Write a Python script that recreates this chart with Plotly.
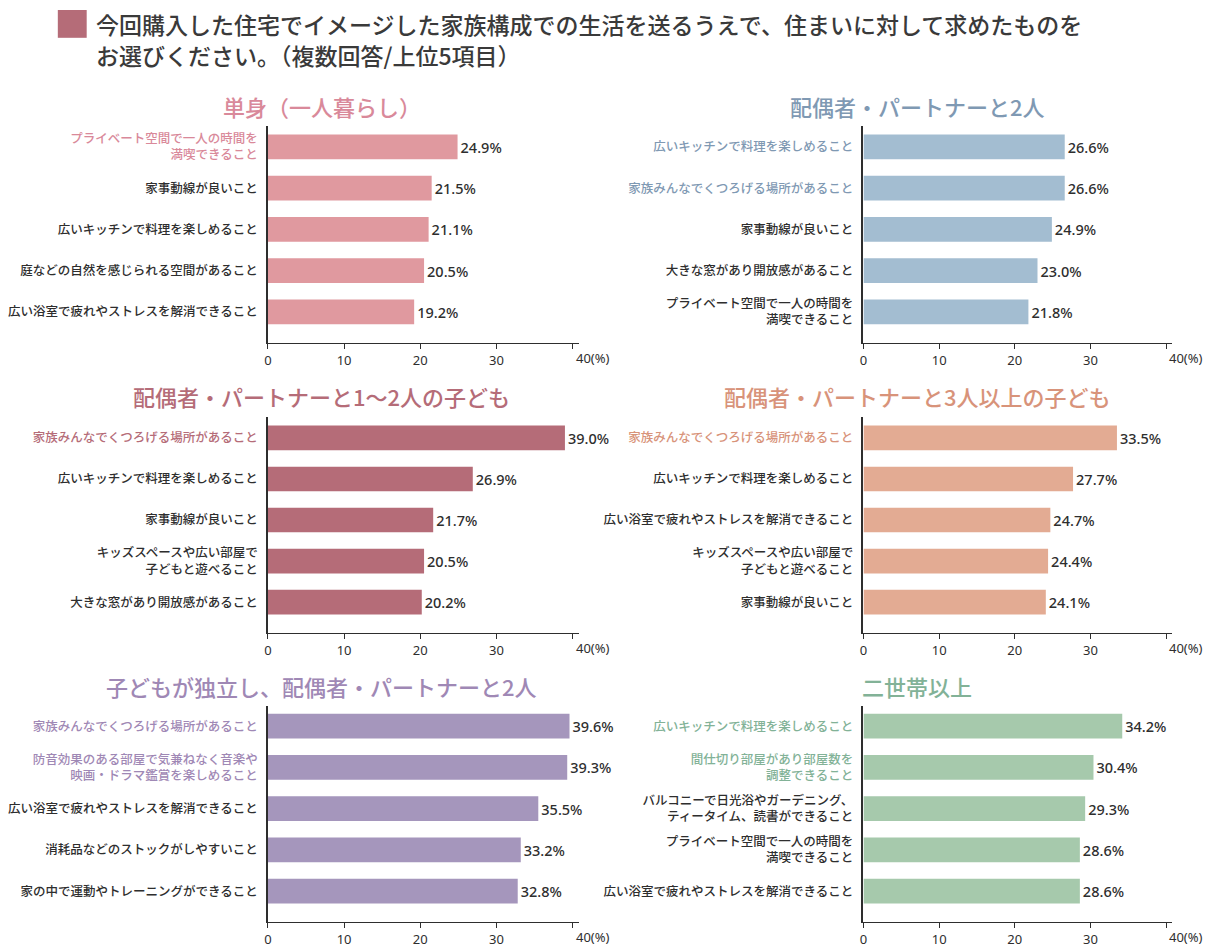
import plotly.graph_objects as go

FONT = "Noto Sans CJK JP"
TXT = "#2E2E2E"

# ---- data ----
title_line1 = "今回購入した住宅でイメージした家族構成での生活を送るうえで、住まいに対して求めたものを"
title_line2 = "お選びください。（複数回答/上位5項目）"

p1_title = "単身（一人暮らし）"
p1_labels = ["プライベート空間で一人の時間を<br>満喫できること", "家事動線が良いこと", "広いキッチンで料理を楽しめること",
             "庭などの自然を感じられる空間があること", "広い浴室で疲れやストレスを解消できること"]
p1_values = [24.9, 21.5, 21.1, 20.5, 19.2]
p1_highlight = 1

p2_title = "配偶者・パートナーと2人"
p2_labels = ["広いキッチンで料理を楽しめること", "家族みんなでくつろげる場所があること", "家事動線が良いこと",
             "大きな窓があり開放感があること", "プライベート空間で一人の時間を<br>満喫できること"]
p2_values = [26.6, 26.6, 24.9, 23.0, 21.8]
p2_highlight = 2

p3_title = "配偶者・パートナーと1〜2人の子ども"
p3_labels = ["家族みんなでくつろげる場所があること", "広いキッチンで料理を楽しめること", "家事動線が良いこと",
             "キッズスペースや広い部屋で<br>子どもと遊べること", "大きな窓があり開放感があること"]
p3_values = [39.0, 26.9, 21.7, 20.5, 20.2]
p3_highlight = 1

p4_title = "配偶者・パートナーと3人以上の子ども"
p4_labels = ["家族みんなでくつろげる場所があること", "広いキッチンで料理を楽しめること",
             "広い浴室で疲れやストレスを解消できること", "キッズスペースや広い部屋で<br>子どもと遊べること",
             "家事動線が良いこと"]
p4_values = [33.5, 27.7, 24.7, 24.4, 24.1]
p4_highlight = 1

p5_title = "子どもが独立し、配偶者・パートナーと2人"
p5_labels = ["家族みんなでくつろげる場所があること", "防音効果のある部屋で気兼ねなく音楽や<br>映画・ドラマ鑑賞を楽しめること",
             "広い浴室で疲れやストレスを解消できること", "消耗品などのストックがしやすいこと",
             "家の中で運動やトレーニングができること"]
p5_values = [39.6, 39.3, 35.5, 33.2, 32.8]
p5_highlight = 2

p6_title = "二世帯以上"
p6_labels = ["広いキッチンで料理を楽しめること", "間仕切り部屋があり部屋数を<br>調整できること",
             "バルコニーで日光浴やガーデニング、<br>ティータイム、読書ができること",
             "プライベート空間で一人の時間を<br>満喫できること", "広い浴室で疲れやストレスを解消できること"]
p6_values = [34.2, 30.4, 29.3, 28.6, 28.6]
p6_highlight = 2

x_ticks = [0, 10, 20, 30, 40]
x_ticktext = ["0", "10", "20", "30", ""]
last_tick_label = "40(%)"

# ---- styles ----
panels = [
    (p1_title, p1_labels, p1_values, p1_highlight, "#E0999F", "#D9899A"),
    (p2_title, p2_labels, p2_values, p2_highlight, "#A3BDD1", "#7F99B3"),
    (p3_title, p3_labels, p3_values, p3_highlight, "#B56C78", "#B56C78"),
    (p4_title, p4_labels, p4_values, p4_highlight, "#E3AB93", "#D8937A"),
    (p5_title, p5_labels, p5_values, p5_highlight, "#A596BC", "#9F88B5"),
    (p6_title, p6_labels, p6_values, p6_highlight, "#A6C9AC", "#82B297"),
]

OFF = 8  # browser body margin
W, H = 1215 - OFF, 948 - OFF


def px(p):
    return (p - OFF) / W


def py(p):
    return 1 - (p - OFF) / H


col_x = [(264, 576), (862, 1172)]
row_y = [(127, 345), (420, 637), (710, 928)]
title_y = [107, 398, 690]
title_x = [318, 916]

fig = go.Figure()
annotations = []
layout_axes = {}

for i, (ptitle, labels, values, nhl, bar_c, title_c) in enumerate(panels):
    r, c = divmod(i, 2)
    n = i + 1
    xa = "x" if n == 1 else f"x{n}"
    ya = "y" if n == 1 else f"y{n}"
    fig.add_trace(go.Bar(
        x=values, y=labels, orientation="h",
        marker=dict(color=bar_c, line=dict(width=0)),
        width=0.6,
        text=[f"{v:.1f}%" for v in values], textposition="outside",
        textfont=dict(family="Noto Sans", size=14.5, color=TXT, weight=500),
        constraintext="none", cliponaxis=False,
        xaxis=xa, yaxis=ya, hoverinfo="skip", showlegend=False,
    ))
    x0, x1 = col_x[c]
    y0, y1 = row_y[r]
    ticktext = [f"<span style='color:{title_c}'>{l}</span>" if k < nhl else l
                for k, l in enumerate(labels)]
    layout_axes["xaxis" if n == 1 else f"xaxis{n}"] = dict(
        domain=[px(x0), px(x1)], range=[0, 40.8], anchor=ya,
        tickvals=x_ticks, ticktext=x_ticktext, ticks="outside", ticklen=5,
        tickcolor=TXT, tickwidth=1, showline=True, linecolor=TXT, linewidth=1.3,
        showgrid=False, zeroline=False,
        tickfont=dict(family="Noto Sans", size=13, color=TXT),
    )
    layout_axes["yaxis" if n == 1 else f"yaxis{n}"] = dict(
        domain=[py(y1), py(y0)], anchor=xa,
        type="category", categoryorder="array", categoryarray=labels,
        range=[4.75, -0.5], tickvals=labels, ticktext=ticktext, ticks="",
        ticklabelstandoff=6,
        showline=True, linecolor=TXT, linewidth=1.5, showgrid=False, zeroline=False,
        tickfont=dict(family=FONT, size=12.5, color=TXT, weight=500),
    )
    annotations.append(dict(
        text=ptitle, xref="paper", yref="paper",
        x=px(title_x[c]), y=py(title_y[r]), xanchor="center", yanchor="middle",
        showarrow=False, font=dict(family=FONT, size=22, color=title_c, weight=500),
    ))
    annotations.append(dict(
        text=last_tick_label, xref=xa, yref="paper",
        x=x_ticks[-1], y=py(y1), xanchor="left", yanchor="top",
        xshift=1, yshift=-4, showarrow=False,
        font=dict(family="Noto Sans", size=13, color=TXT),
    ))

annotations.append(dict(text=title_line1, xref="paper", yref="paper", x=px(89), y=py(24),
                        xanchor="left", yanchor="middle", showarrow=False,
                        font=dict(family=FONT, size=23, color="#3A3A3A", weight=500)))
annotations.append(dict(text=title_line2, xref="paper", yref="paper", x=px(89), y=py(55),
                        xanchor="left", yanchor="middle", showarrow=False,
                        font=dict(family=FONT, size=23, color="#3A3A3A", weight=500)))

fig.update_layout(
    width=W, height=H, margin=dict(l=0, r=0, t=0, b=0),
    paper_bgcolor="white", plot_bgcolor="white",
    font=dict(family=FONT, color=TXT),
    annotations=annotations,
    shapes=[dict(type="rect", xref="paper", yref="paper",
                 x0=px(53), x1=px(82), y0=py(38), y1=py(10),
                 fillcolor="#B56C78", line=dict(width=0))],
    **layout_axes,
)

fig.write_html("out.html")
